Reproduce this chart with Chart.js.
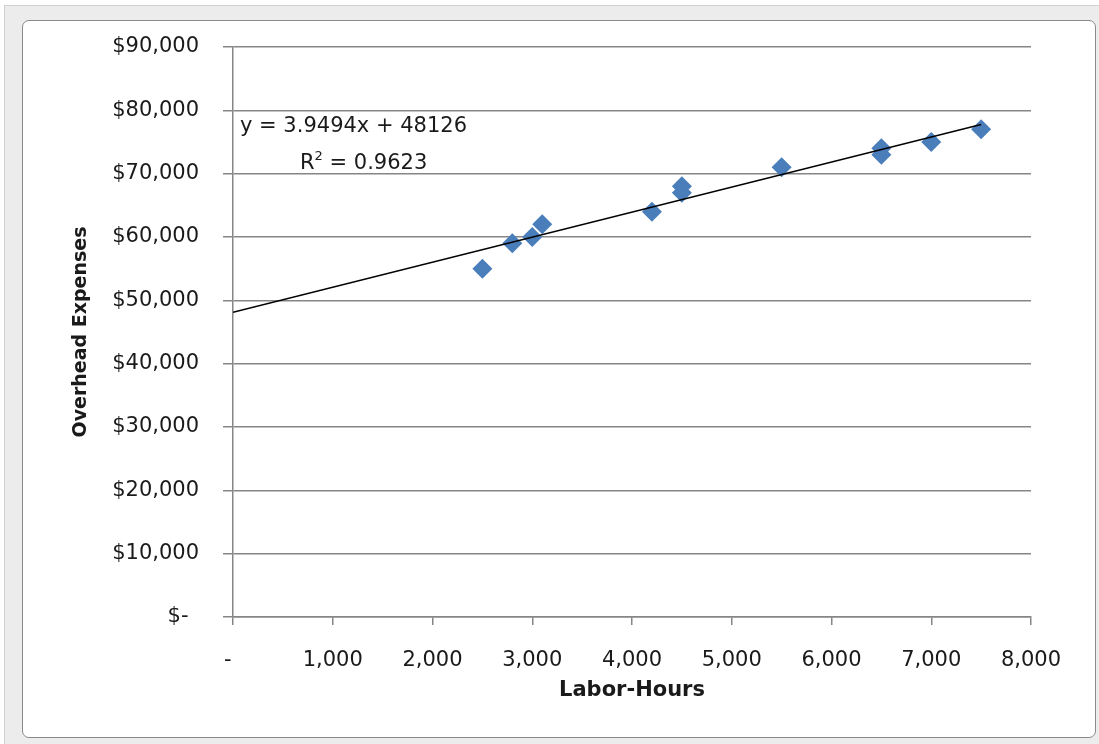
<!DOCTYPE html>
<html>
<head>
<meta charset="utf-8">
<script src="https://cdn.jsdelivr.net/npm/chart.js@4"></script>
<style>
    html, body { margin: 0; padding: 0; }
    body { width: 1099px; height: 744px; background: #ffffff; position: relative; overflow: hidden; }
    .sheet { position: absolute; left: 4px; top: 5px; width: 1095px; height: 739px; background: #ececec; border-top: 1px solid #d0d0d0; border-left: 1px solid #d0d0d0; }
    .frame { position: absolute; left: 22px; top: 20px; width: 1072px; height: 716px; background: #fff; border: 1px solid #8a8a8a; border-radius: 7px; overflow: hidden; }
    canvas { display: block; }
</style>
</head>
<body>
<div class="sheet"></div>
<div class="frame"><canvas id="chart" width="1072" height="716"></canvas></div>
<script>
// Dados
const laborHours = [2500, 2800, 3000, 3100, 4200, 4500, 4500, 5500, 6500, 6500, 7000, 7500];
const overhead = [55000, 59000, 60000, 62000, 64000, 68000, 67000, 71000, 74000, 73000, 75000, 77000];

// Linha de tendência (início e fim)
const trendHours = [0, 7500];
const trendOverhead = [48126, 77747];

const equationLines = ['y = 3.9494x + 48126', 'R', '2', ' = 0.9623'];

const axisGray = '#868686';
const fontFamily = 'DejaVu Sans';

// Texto da equação
const equationPlugin = {
    id: 'equation',
    afterDatasetsDraw(chart) {
        const { ctx, chartArea } = chart;
        ctx.save();
        ctx.fillStyle = '#1a1a1a';
        ctx.textBaseline = 'middle';
        ctx.font = '21px ' + fontFamily;
        ctx.fillText(equationLines[0], chartArea.left + 7, chartArea.top + 80);
        let x = chartArea.left + 67;
        const y = chartArea.top + 117;
        ctx.fillText(equationLines[1], x, y);
        x += ctx.measureText(equationLines[1]).width;
        ctx.font = '13px ' + fontFamily;
        ctx.fillText(equationLines[2], x, y - 7);
        x += ctx.measureText(equationLines[2]).width;
        ctx.font = '21px ' + fontFamily;
        ctx.fillText(equationLines[3], x, y);
        ctx.restore();
    }
};

const chart = new Chart(document.getElementById('chart'), {
    type: 'scatter',
    data: {
        datasets: [
            {
                label: 'Overhead',
                data: laborHours.map((h, i) => ({ x: h, y: overhead[i] })),
                pointStyle: 'rectRot',
                pointRadius: 10,
                pointHoverRadius: 10,
                backgroundColor: '#4a7ebb',
                borderColor: '#4a7ebb',
                borderWidth: 0,
                order: 2
            },
            {
                type: 'line',
                label: 'Tendência',
                data: trendHours.map((h, i) => ({ x: h, y: trendOverhead[i] })),
                borderColor: '#000000',
                borderWidth: 1.5,
                pointRadius: 0,
                fill: false,
                order: 1
            }
        ]
    },
    options: {
        responsive: false,
        animation: false,
        layout: { padding: { left: 0, top: 26, right: 64, bottom: 0 } },
        plugins: {
            legend: { display: false },
            tooltip: { enabled: false }
        },
        scales: {
            x: {
                type: 'linear',
                min: 0,
                max: 8000,
                ticks: {
                    stepSize: 1000,
                    padding: 23,
                    color: '#1a1a1a',
                    font: { family: fontFamily, size: 21 },
                    maxRotation: 0,
                    callback: v => v === 0 ? '-\u2002' : v.toLocaleString('en-US')
                },
                grid: { drawOnChartArea: false, drawTicks: true, tickLength: 8, color: axisGray, lineWidth: 1.5 },
                border: { display: true, color: axisGray, width: 1.5 },
                title: {
                    display: true,
                    text: 'Labor-Hours',
                    color: '#1a1a1a',
                    font: { family: fontFamily, size: 21, weight: 'bold' },
                    padding: { top: 0, bottom: 34 }
                },
                afterFit: scale => { scale.height = 120; }
            },
            y: {
                min: 0,
                max: 90000,
                ticks: {
                    stepSize: 10000,
                    padding: 24,
                    color: '#1a1a1a',
                    font: { family: fontFamily, size: 21 },
                    callback: v => v === 0 ? '$-\u2002' : '$' + v.toLocaleString('en-US')
                },
                grid: { color: axisGray, lineWidth: 1.5, drawTicks: true, tickLength: 10 },
                border: { display: true, color: axisGray, width: 1.5 },
                title: {
                    display: true,
                    text: 'Overhead Expenses',
                    color: '#1a1a1a',
                    font: { family: fontFamily, size: 19, weight: 'bold' },
                    padding: { top: 47, bottom: 0 }
                },
                afterFit: scale => {
                    scale.width = 210;
                    // sem folga extra em cima/baixo por causa do padding dos ticks
                    scale.paddingTop = 13;
                    scale.paddingBottom = 13;
                }
            }
        }
    },
    plugins: [equationPlugin]
});
</script>
</body>
</html>
